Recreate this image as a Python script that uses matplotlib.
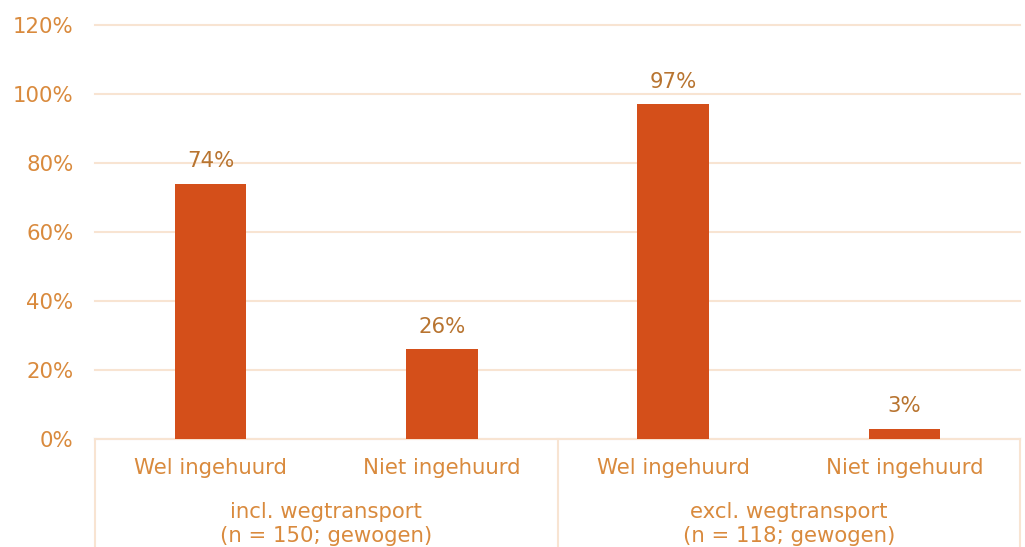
import numpy as np
import matplotlib.pyplot as plt

# 数据
categories = ["Wel ingehuurd", "Niet ingehuurd", "Wel ingehuurd", "Niet ingehuurd"]
groups = ["incl. wegtransport\n(n = 150; gewogen)", "excl. wegtransport\n(n = 118; gewogen)"]
values = [0.74, 0.26, 0.97, 0.03]
value_labels = ["74%", "26%", "97%", "3%"]
yticks = [0, 0.2, 0.4, 0.6, 0.8, 1.0, 1.2]

BAR_COLOR = "#D44F1A"
TEXT_COLOR = "#D98A3D"
LABEL_COLOR = "#B87430"
GRID_COLOR = "#F8E4D2"
FS = 15.3


def main():
    fig = plt.figure(figsize=(10.25, 5.47), dpi=100)
    ax = fig.add_axes([95 / 1025, 108 / 547, 925 / 1025, 414 / 547])

    x = np.arange(len(values))
    ax.bar(x, values, width=0.31, color=BAR_COLOR, zorder=3)

    # 数据标签
    for xi, v, lab in zip(x, values, value_labels):
        ax.annotate(lab, (xi, v), xytext=(0, 9), textcoords="offset points",
                    ha="center", va="bottom", fontsize=FS, color=LABEL_COLOR)

    ax.set_xlim(-0.5, len(values) - 0.5)
    ax.set_ylim(0, 1.2)
    ax.set_yticks(yticks)
    ax.set_yticklabels([f"{int(round(t * 100))}%" for t in yticks])
    ax.tick_params(axis="y", length=0, pad=15.5, labelsize=FS, labelcolor=TEXT_COLOR)
    ax.set_xticks([])
    ax.grid(axis="y", color=GRID_COLOR, linewidth=1.5, zorder=0)
    for line in ax.get_ygridlines():
        line.set_clip_on(False)
    for side in ["top", "right", "left"]:
        ax.spines[side].set_visible(False)
    ax.spines["bottom"].set_color(GRID_COLOR)
    ax.spines["bottom"].set_linewidth(1.5)

    # 分类标签
    trans = ax.get_xaxis_transform()
    for xi, cat in zip(x, categories):
        ax.text(xi, -29 / 414, cat, transform=trans, ha="center", va="center",
                fontsize=FS, color=TEXT_COLOR)

    # 分组标签
    n_per = len(values) // len(groups)
    for gi, g in enumerate(groups):
        center = gi * n_per + (n_per - 1) / 2
        ax.text(center, -85 / 414, g, transform=trans, ha="center", va="center",
                fontsize=FS, color=TEXT_COLOR, linespacing=1.2)

    # 分隔线
    for gi in range(len(groups) + 1):
        xs = gi * n_per - 0.5
        ax.plot([xs, xs], [0, -108 / 414], transform=trans, color=GRID_COLOR,
                linewidth=1.5, clip_on=False)

    fig.savefig("out.png", dpi=100)


if __name__ == "__main__":
    main()
